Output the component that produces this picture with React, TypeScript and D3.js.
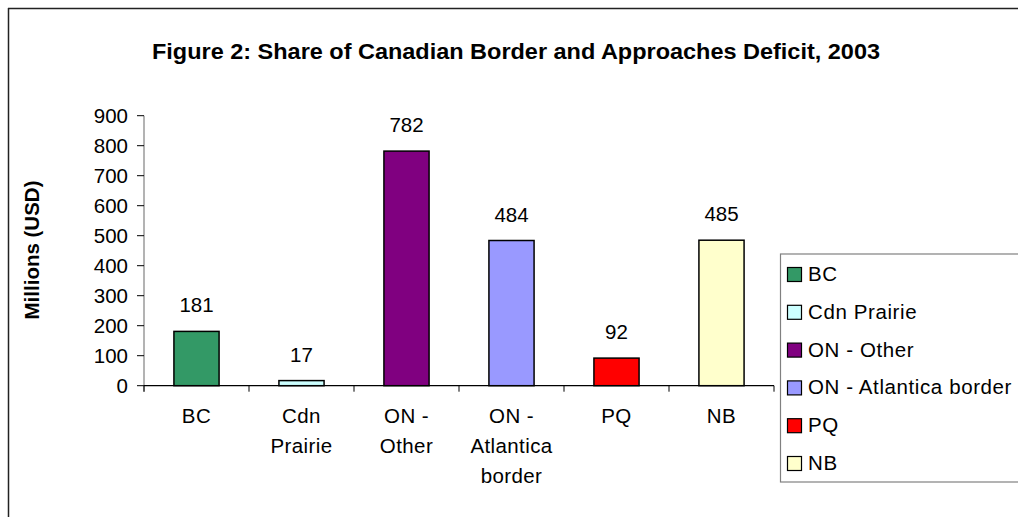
import React from "react";
import * as d3 from "d3";

const categories = ["BC", "Cdn Prairie", "ON - Other", "ON - Atlantica border", "PQ", "NB"];
const categoryLines = [["BC"], ["Cdn", "Prairie"], ["ON -", "Other"], ["ON -", "Atlantica", "border"], ["PQ"], ["NB"]];
const values = [181, 17, 782, 484, 92, 485];
const colors = ["#339966", "#CCFFFF", "#800080", "#9999FF", "#FF0000", "#FFFFCC"];
const yTicks = [0, 100, 200, 300, 400, 500, 600, 700, 800, 900];

const W = 1018;
const H = 517;
const font = "'Liberation Sans', Arial, sans-serif";
const FS = 20.5;

export default function App() {
  const x = d3.scaleBand<string>().domain(categories).range([144, 774]).padding(0);
  const y = d3.scaleLinear().domain([0, 900]).range([385.7, 115.7]);
  const barW = x.bandwidth() * 0.43;

  return (
    <svg
      width={W}
      height={H}
      style={{ position: "absolute", left: 0, top: 0, background: "#fff" }}
      fontFamily={font}
    >
      {/* outer frame (partial) */}
      <line x1={8} y1={8.5} x2={W} y2={8.5} stroke="#222" strokeWidth={1.5} />
      <line x1={8.5} y1={8} x2={8.5} y2={H} stroke="#222" strokeWidth={1.5} />

      {/* title */}
      <text
        x={516}
        y={59}
        textAnchor="middle"
        fontSize={21.5}
        fontWeight="bold"
        fill="#000"
        textLength={728}
        lengthAdjust="spacingAndGlyphs"
      >
        Figure 2: Share of Canadian Border and Approaches Deficit, 2003
      </text>

      {/* y axis label */}
      <text
        transform={`translate(39,250) rotate(-90)`}
        textAnchor="middle"
        fontSize={20.5}
        fontWeight="bold"
        fill="#000"
      >
        Millions (USD)
      </text>

      {/* y axis */}
      <line x1={144} y1={y(900)} x2={144} y2={y(0) + 6} stroke="#808080" strokeWidth={1.2} />
      {yTicks.map((t) => (
        <g key={t}>
          <line x1={137} y1={y(t)} x2={144} y2={y(t)} stroke="#000" strokeWidth={1} />
          <text x={128} y={y(t) + 7} textAnchor="end" fontSize={FS} fill="#000">
            {t}
          </text>
        </g>
      ))}

      {/* bars */}
      {categories.map((c, i) => {
        const cx = (x(c) as number) + x.bandwidth() / 2;
        return (
          <g key={c}>
            <rect
              x={cx - barW / 2}
              y={y(values[i])}
              width={barW}
              height={y(0) - y(values[i])}
              fill={colors[i]}
              stroke="#000"
              strokeWidth={1.5}
            />
            <text x={cx} y={y(values[i]) - 19} textAnchor="middle" fontSize={FS} fill="#000">
              {values[i]}
            </text>
            {categoryLines[i].map((ln, j) => (
              <text key={j} x={cx} y={423 + j * 30} textAnchor="middle" fontSize={FS} letterSpacing={0.4} fill="#000">
                {ln}
              </text>
            ))}
          </g>
        );
      })}

      {/* x axis */}
      <line x1={144} y1={y(0)} x2={774} y2={y(0)} stroke="#000" strokeWidth={1.2} />
      {d3.range(categories.length + 1).map((k) => {
        const tx = 144 + k * x.step();
        return <line key={k} x1={tx} y1={y(0)} x2={tx} y2={y(0) + 6} stroke="#000" strokeWidth={1} />;
      })}

      {/* legend */}
      <rect x={780.5} y={254} width={W} height={228} fill="#fff" stroke="#808080" strokeWidth={1.2} />
      {categories.map((c, i) => {
        const cy = 274 + i * 37.8;
        return (
          <g key={c}>
            <rect x={787.5} y={cy - 6.5} width={14} height={14} fill={colors[i]} stroke="#000" strokeWidth={1.2} />
            <text x={808} y={cy + 7} fontSize={FS} letterSpacing={0.6} fill="#000">
              {c}
            </text>
          </g>
        );
      })}
    </svg>
  );
}
